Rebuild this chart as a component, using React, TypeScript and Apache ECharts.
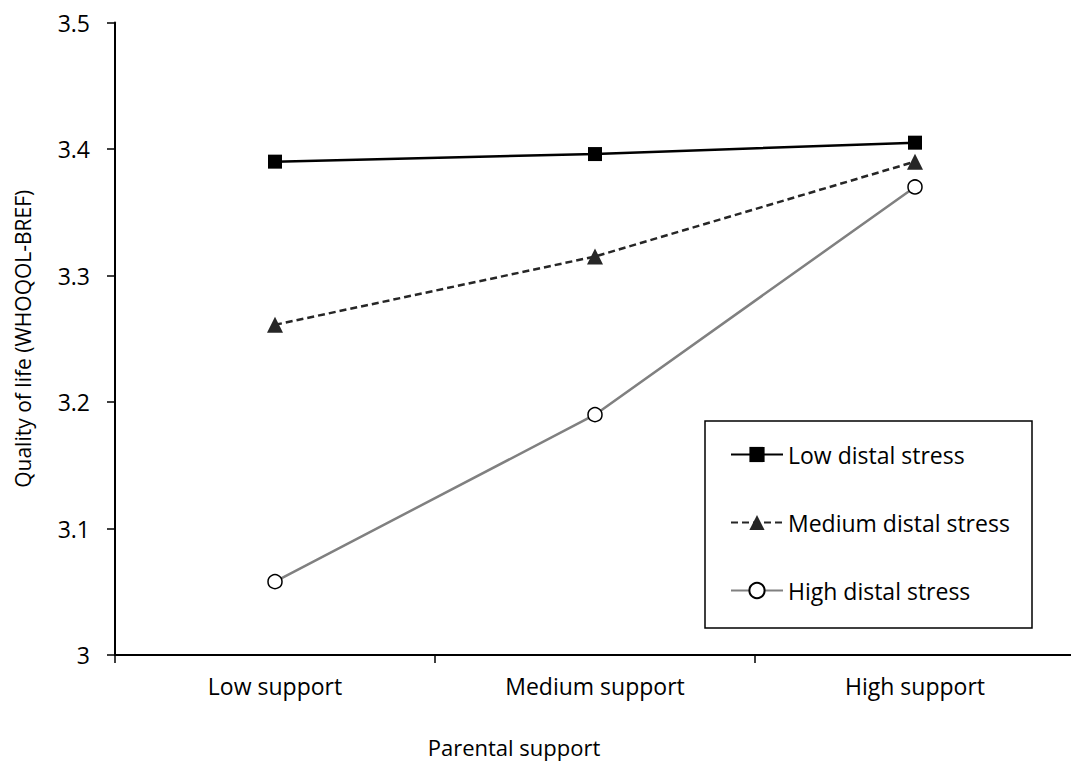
import React, { useEffect, useRef } from "react";
import * as echarts from "echarts";

const categories = ["Low support", "Medium support", "High support"];
const lowDistal = [3.39, 3.396, 3.405];
const mediumDistal = [3.261, 3.315, 3.39];
const highDistal = [3.058, 3.19, 3.37];
const yTicks = { min: 3, max: 3.5, interval: 0.1 };

const FONT = "'Open Sans', sans-serif";

export default function App() {
  const ref = useRef<HTMLDivElement>(null);
  useEffect(() => {
    document.body.style.margin = "0";
    document.body.style.overflow = "hidden";
    const chart = echarts.init(ref.current!, undefined, { renderer: "svg" });
    chart.setOption({
      animation: false,
      backgroundColor: "#fff",
      textStyle: { fontFamily: FONT },
      grid: { left: 115, right: 5, top: 22.5, bottom: 107, containLabel: false, outerBoundsMode: "none" },
      xAxis: {
        type: "category",
        data: categories,
        boundaryGap: true,
        axisLine: { lineStyle: { color: "#000", width: 2 } },
        axisTick: { show: true, length: 8, lineStyle: { color: "#000", width: 1.5 } },
        axisLabel: { color: "#000", fontSize: 23, margin: 19, fontFamily: FONT },
        splitLine: { show: false },
      },
      yAxis: {
        type: "value",
        min: yTicks.min,
        max: yTicks.max,
        interval: yTicks.interval,
        axisLine: { show: true, lineStyle: { color: "#000", width: 2 } },
        axisTick: { show: true, length: 8, lineStyle: { color: "#000", width: 1.5 } },
        axisLabel: {
          color: "#000",
          fontSize: 23,
          margin: 25,
          fontFamily: FONT,
          formatter: (v: number) => String(Math.round(v * 10) / 10),
        },
        splitLine: { show: false },
        name: "Quality of life (WHOQOL-BREF)",
        nameLocation: "middle",
        nameGap: 80,
        nameTextStyle: { color: "#000", fontSize: 21, lineHeight: 24, fontFamily: FONT },
      },
      legend: {
        orient: "vertical",
        left: 705,
        top: 421,
        padding: [22, 10, 10, 25],
        itemWidth: 52,
        itemHeight: 19,
        itemGap: 45,
        textStyle: { color: "#000", fontSize: 23, lineHeight: 23, fontFamily: FONT },
        data: ["Low distal stress", "Medium distal stress", "High distal stress"],
      },
      graphic: [
        {
          type: "rect",
          shape: { x: 705, y: 421, width: 327, height: 207 },
          style: { fill: "none", stroke: "#000", lineWidth: 1.5 },
          z: 1,
        },
        {
          type: "text",
          x: 514,
          y: 747,
          style: {
            text: "Parental support",
            fontSize: 22,
            fontFamily: FONT,
            fill: "#000",
            align: "center",
            verticalAlign: "middle",
          },
        },
      ],
      series: [
        {
          name: "Low distal stress",
          type: "line",
          data: lowDistal,
          symbol: "rect",
          symbolSize: 14,
          lineStyle: { color: "#000", width: 2.5 },
          itemStyle: { color: "#000" },
          z: 5,
        },
        {
          name: "Medium distal stress",
          type: "line",
          data: mediumDistal,
          symbol: "triangle",
          symbolSize: 16,
          lineStyle: { color: "#262626", width: 2.5, type: [7, 4] },
          itemStyle: { color: "#262626" },
          z: 4,
        },
        {
          name: "High distal stress",
          type: "line",
          data: highDistal,
          symbol: "circle",
          symbolSize: 14,
          lineStyle: { color: "#808080", width: 2.5 },
          itemStyle: { color: "#fff", borderColor: "#000", borderWidth: 1.5 },
          z: 3,
        },
      ],
    });
    return () => chart.dispose();
  }, []);
  return <div ref={ref} style={{ width: 1080, height: 762 }} />;
}
